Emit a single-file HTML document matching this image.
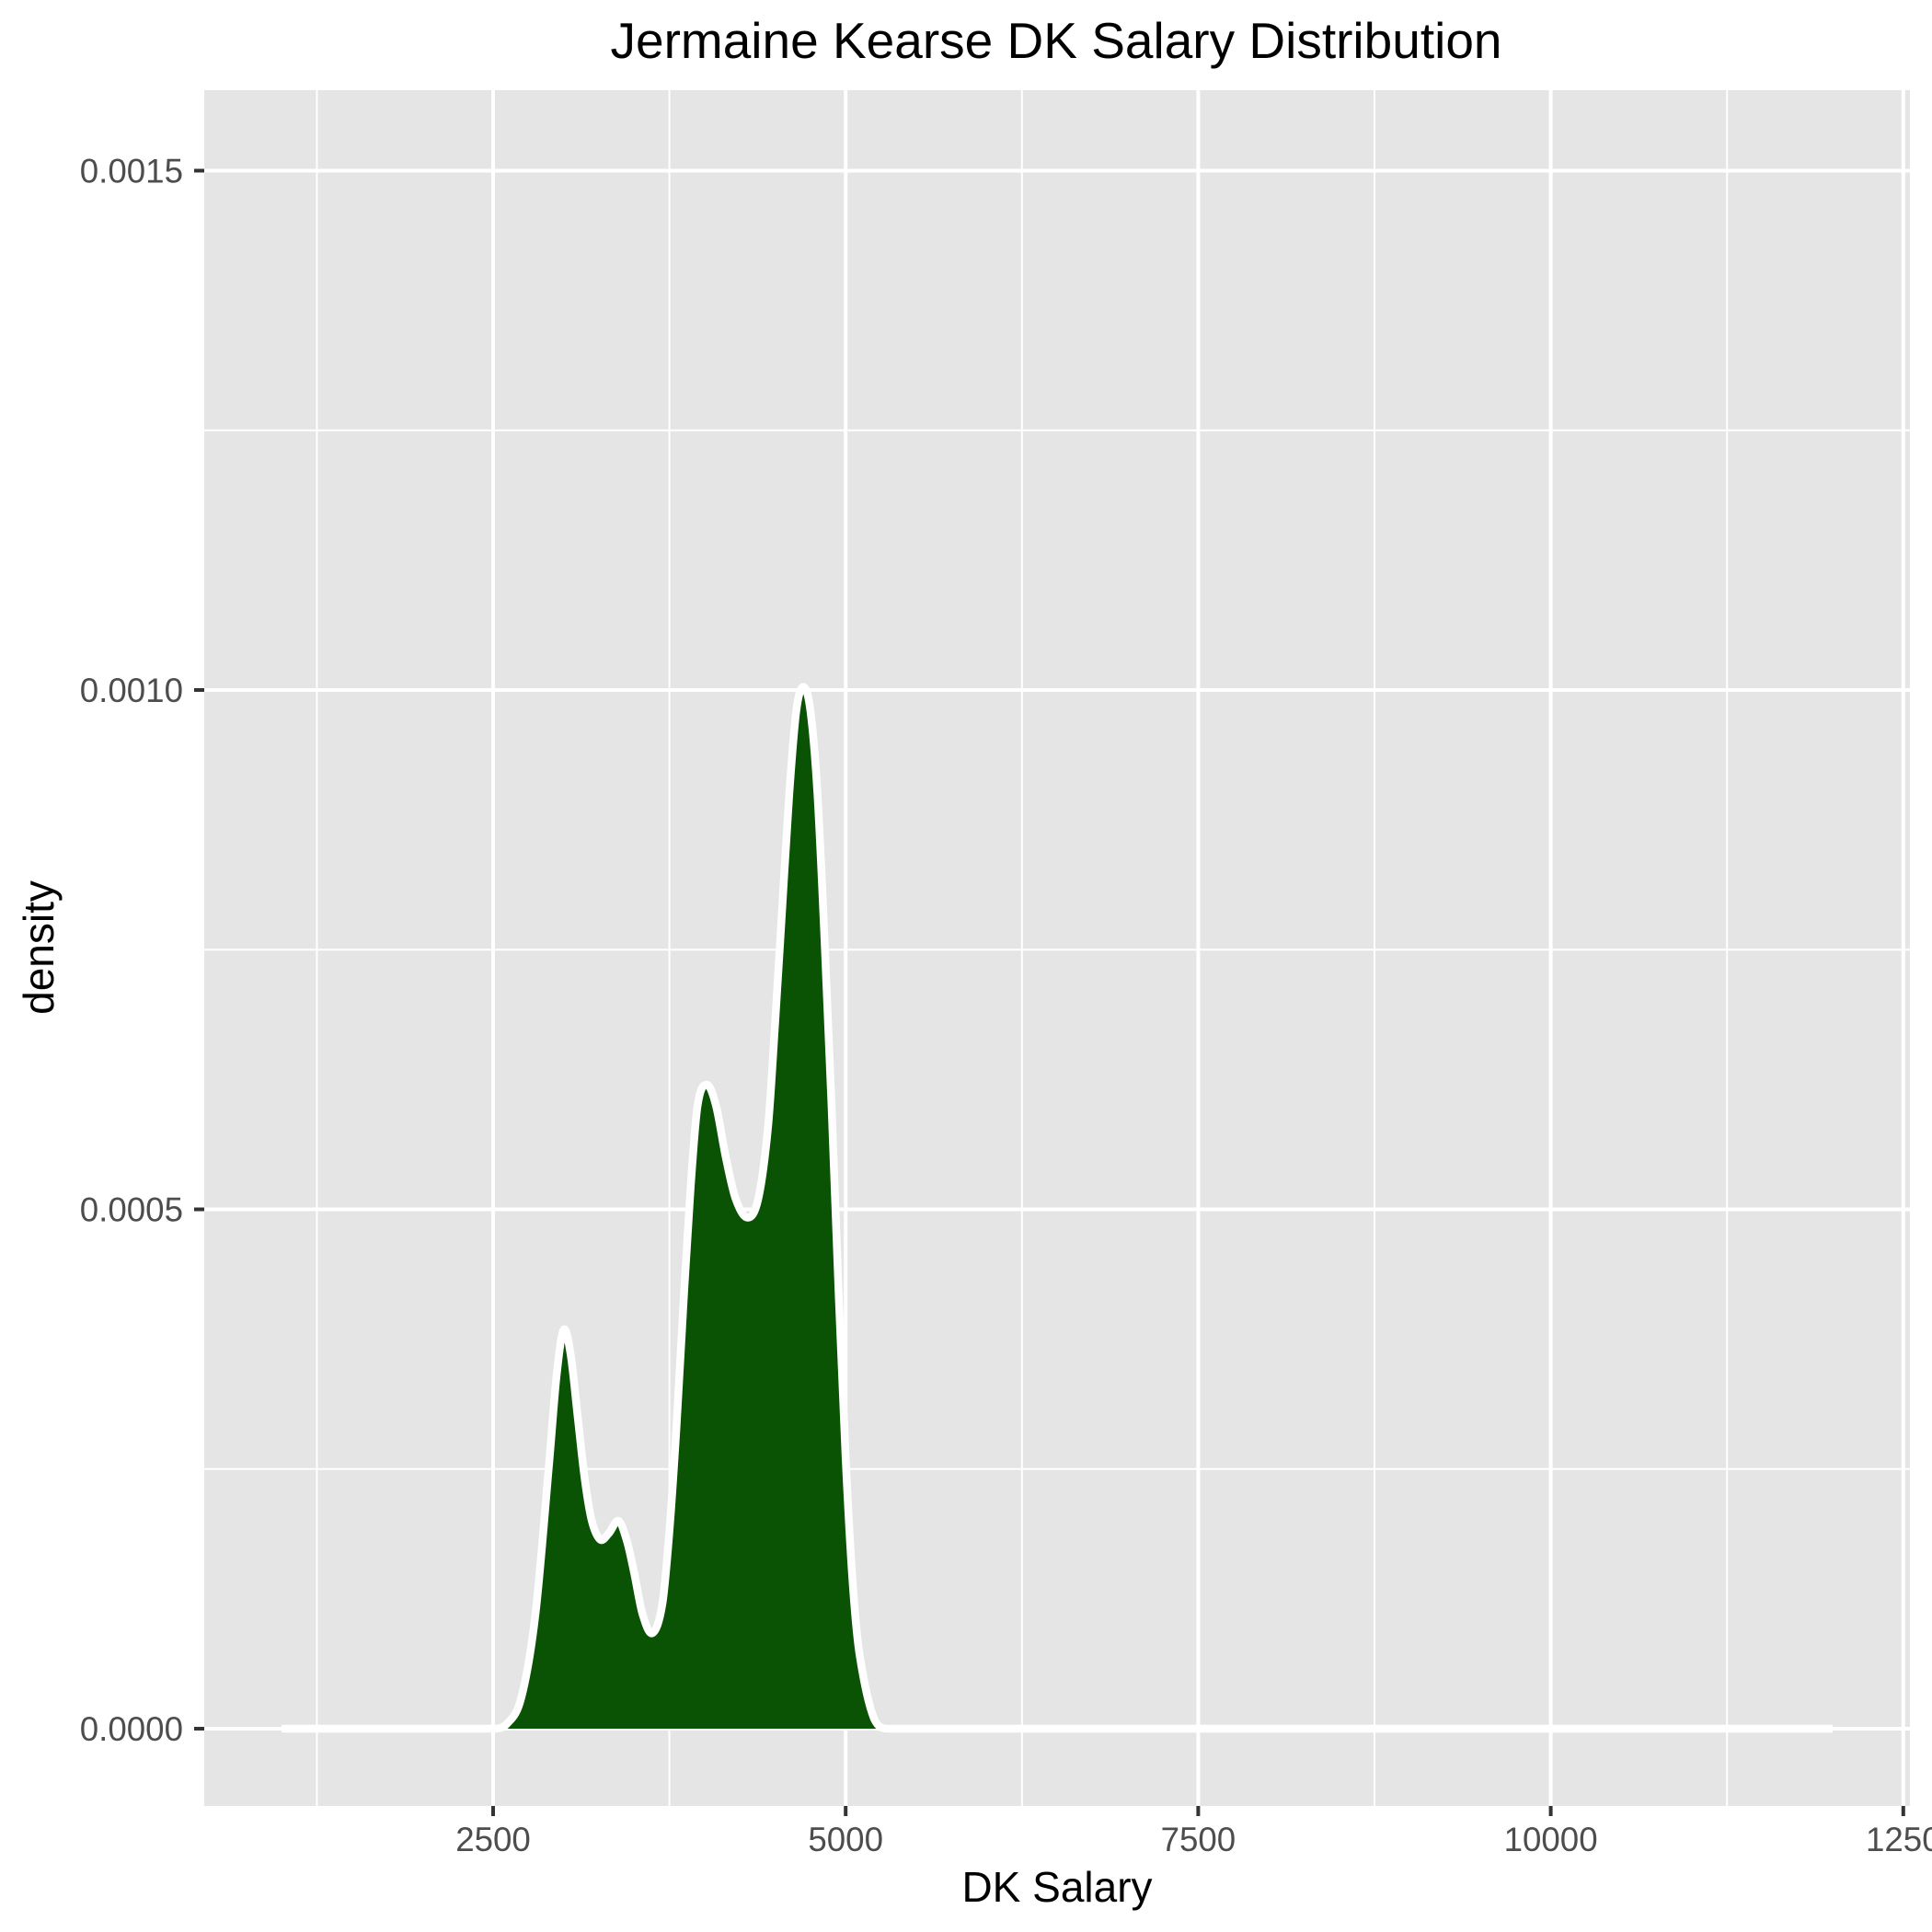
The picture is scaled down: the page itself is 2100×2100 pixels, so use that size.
<!DOCTYPE html>
<html><head><meta charset="utf-8"><style>
html,body{margin:0;padding:0;background:#fff;}
svg{display:block;font-family:"Liberation Sans",Arial,sans-serif;}
</style></head><body>
<svg id="chart" width="2100" height="2100" viewBox="0 0 2100 2100" xmlns="http://www.w3.org/2000/svg">
<rect x="0" y="0" width="2100" height="2100" fill="#fff"/>
<rect x="222" y="98" width="1854" height="1865" fill="#E5E5E5"/>
<g id="grid"></g>
<g id="marks"></g>
<g id="axes"></g>
<text x="1148" y="63" font-size="55" text-anchor="middle" fill="#000">Jermaine Kearse DK Salary Distribution</text>
<text x="1149" y="2067" font-size="46" text-anchor="middle" fill="#000">DK Salary</text>
<text x="0" y="0" font-size="46" text-anchor="middle" fill="#000" transform="translate(58,1030) rotate(-90)">density</text>
</svg>
<script>
const salary = [1000,2500,2600,2700,2800,2900,2950,3000,3050,3100,3150,3200,3260,3320,3390,3450,3500,3560,3630,3700,3750,3800,3850,3900,3950,4015,4080,4150,4220,4305,4380,4450,4500,4550,4600,4650,4700,4750,4800,4850,4900,4950,5000,5050,5100,5200,5300,12000];
const density = [0,0,0.000005,0.00003,0.00011,0.00026,0.00034,0.000384,0.00036,0.0003,0.00024,0.0002,0.000182,0.000188,0.0002,0.00018,0.00015,0.00011,0.000092,0.00012,0.00019,0.00029,0.00041,0.00052,0.0006,0.00062,0.0006,0.00055,0.00051,0.000492,0.00051,0.00058,0.00068,0.00079,0.0009,0.00098,0.001003,0.00098,0.0009,0.00076,0.0006,0.00042,0.00026,0.00014,0.00007,0.00001,0,0];
const xTicks = [2500,5000,7500,10000,12500];
const xTickLabels = ["2500","5000","7500","10000","1250"];
const xMinor = [1250,3750,6250,8750,11250];
const yTicks = [0,0.0005,0.001,0.0015];
const yTickLabels = ["0.0000","0.0005","0.0010","0.0015"];
const yMinor = [0.00025,0.00075,0.00125];

const NS="http://www.w3.org/2000/svg";
const L=222,R=2076,T=98,B=1963;
function xs(v){return 536+(v-2500)*383.2/2500;}
function ys(v){return 1879-v*1129/0.001;}
function mk(tag,attrs,parent){const e=document.createElementNS(NS,tag);for(const k in attrs)e.setAttribute(k,attrs[k]);parent.appendChild(e);return e;}
const grid=document.getElementById('grid'),marks=document.getElementById('marks'),axes=document.getElementById('axes');
xMinor.forEach(v=>{const e=mk('line',{x1:xs(v),x2:xs(v),y1:T,y2:B,stroke:'#fff','stroke-width':2},grid);

});
yMinor.forEach(v=>{const e=mk('line',{x1:L,x2:R,y1:ys(v),y2:ys(v),stroke:'#fff','stroke-width':2},grid);

});
xTicks.forEach((v,i)=>{const e=mk('line',{x1:xs(v),x2:xs(v),y1:T,y2:B,stroke:'#fff','stroke-width':4},grid);


const t=mk('line',{x1:xs(v),x2:xs(v),y1:B,y2:B+11,stroke:'#333','stroke-width':4},axes);


const lb=mk('text',{x:xs(v),y:2012,'font-size':36.7,'text-anchor':'middle',fill:'#4D4D4D'},axes);
lb.textContent=xTickLabels[i];

});
yTicks.forEach((v,i)=>{const e=mk('line',{x1:L,x2:R,y1:ys(v),y2:ys(v),stroke:'#fff','stroke-width':4},grid);


const t=mk('line',{x1:L-11,x2:L,y1:ys(v),y2:ys(v),stroke:'#333','stroke-width':4},axes);


const lb=mk('text',{x:199,y:ys(v)+13,'font-size':36.7,'text-anchor':'end',fill:'#4D4D4D'},axes);
lb.textContent=yTickLabels[i];

});
function clamp(v,a,b){return Math.max(Math.min(a,b),Math.min(Math.max(a,b),v));}
function pathD(){const pts=salary.map((s,i)=>[xs(s),ys(density[i])]);let d='M'+pts[0][0]+','+pts[0][1];
for(let i=0;i<pts.length-1;i++){const p1=pts[i],p2=pts[i+1];
if(density[i]===0&&density[i+1]===0){d+=' L'+p2[0]+','+p2[1];continue;}
const p0=pts[Math.max(0,i-1)],p3=pts[Math.min(pts.length-1,i+2)];
const dx=p2[0]-p1[0];
const m1=(p2[1]-p0[1])/((p2[0]-p0[0])||1),m2=(p3[1]-p1[1])/((p3[0]-p1[0])||1);
const s1=(i===0||density[i-1]===0&&density[i]===0)?0:m1;
const s2=(i+2>=pts.length||density[i+2]===0&&density[i+1]===0)?0:m2;
let c1=[p1[0]+dx/3,p1[1]+s1*dx/3],c2=[p2[0]-dx/3,p2[1]-s2*dx/3];
c1[1]=Math.min(c1[1],ys(0));c2[1]=Math.min(c2[1],ys(0));
d+=' C'+c1[0]+','+c1[1]+' '+c2[0]+','+c2[1]+' '+p2[0]+','+p2[1];}return d;}
const d=pathD();
const area=mk('path',{d:d+' Z',fill:'#0B5304',stroke:'none'},marks);


const line=mk('path',{d:d,fill:'none',stroke:'#fff','stroke-width':8.5,'stroke-linejoin':'round'},marks);


</script>
</body></html>
